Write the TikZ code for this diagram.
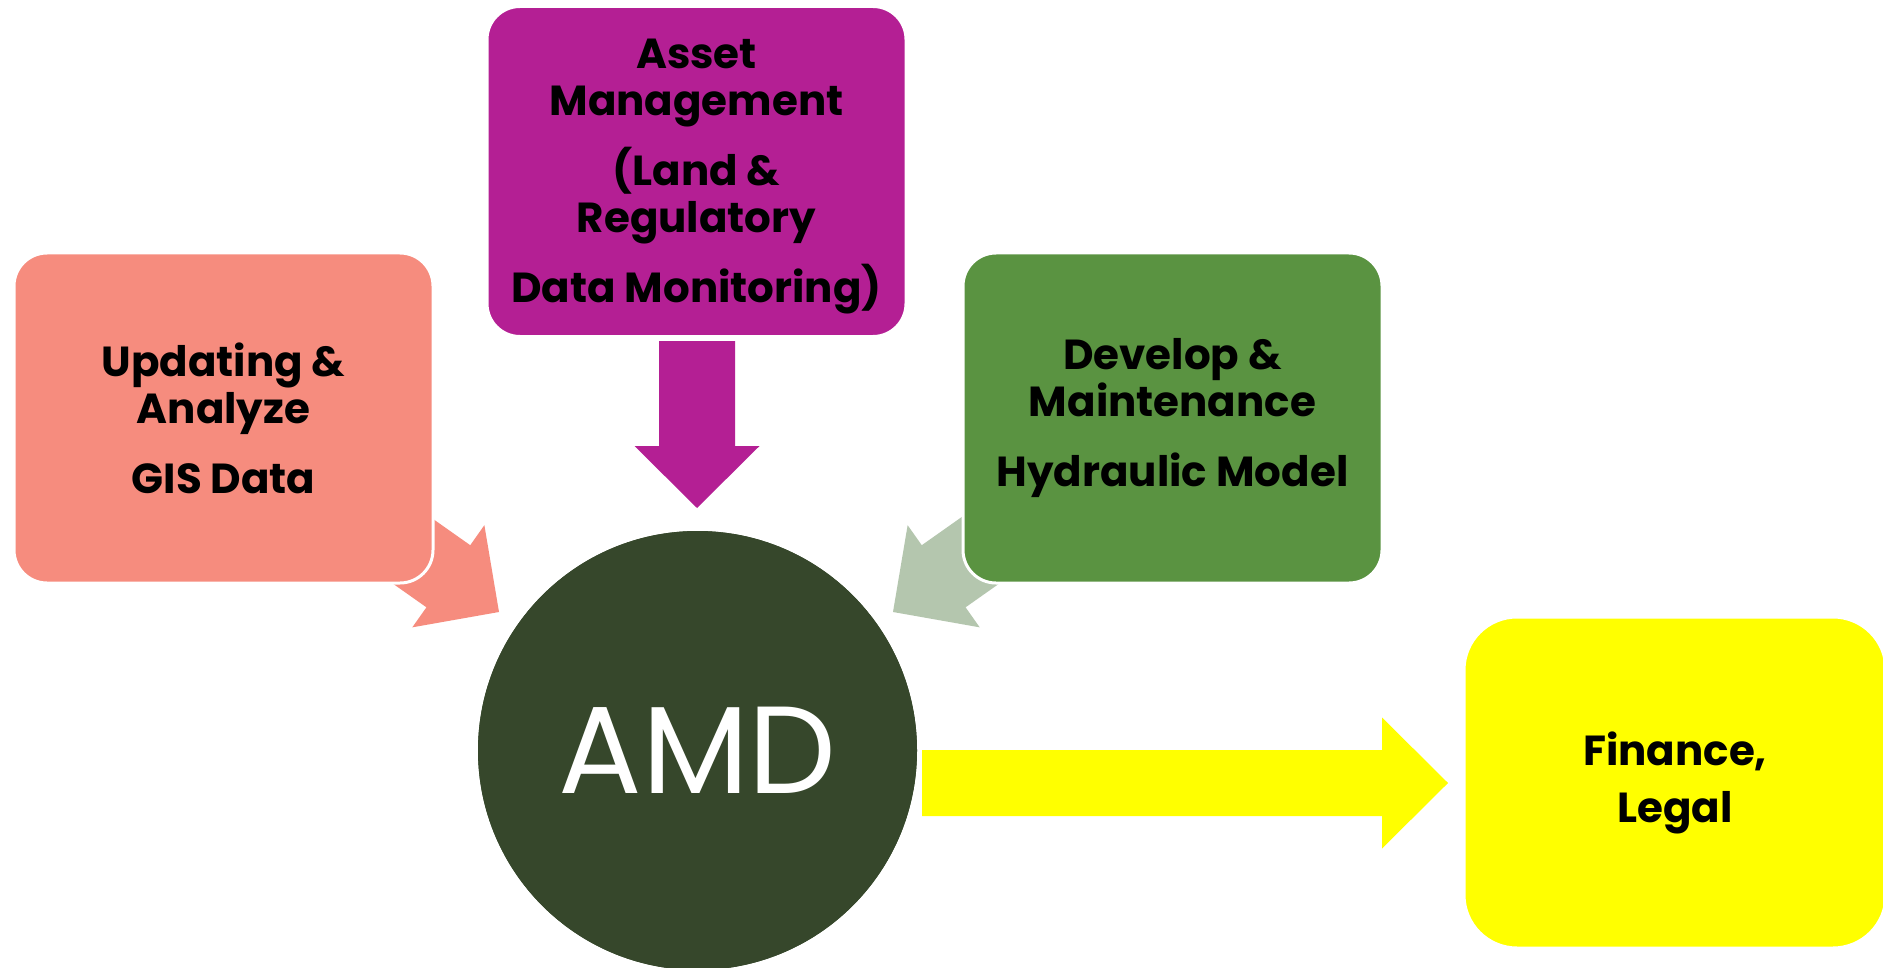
\documentclass[tikz,border=0pt]{standalone}
\usepackage{fontspec}
\newfontfamily\boxfont{Poppins}
\usetikzlibrary{calc}
\lineskiplimit=-100pt
\lineskip=0pt
\definecolor{salmonc}{HTML}{F68C7E}
\definecolor{purplec}{HTML}{B41F94}
\definecolor{greenc}{HTML}{5A9341}
\definecolor{sagec}{HTML}{B4C6AE}
\definecolor{circc}{HTML}{36472B}
\definecolor{yellowc}{HTML}{FFFF00}
% block arrow: colour, tip, angle, shaft length, shaft half width, head half width, head length
\newcommand\myblockarrow[7]{%
  \fill[#1, shift={(#2)}, rotate=#3] (0,0) -- (-#7,-#6) -- (-#7,-#5) -- (-#4,-#5)
    -- (-#4,#5) -- (-#7,#5) -- (-#7,#6) -- cycle;}
\begin{document}
\begin{tikzpicture}[x=0.5pt,y=-0.5pt,
  boxtext/.style={inner sep=0pt, align=center,
    font=\boxfont\bfseries\fontsize{21}{23.5}\selectfont, text=black},
  box/.style={boxtext, rounded corners=16.5pt, draw=white, line width=1.5pt,
    minimum width=209.5pt, minimum height=165pt},
  hub/.style={circle, fill=circc, minimum size=219.5pt, inner sep=0pt,
    font=\boxfont\fontsize{62}{62}\selectfont, text=white}]
\useasboundingbox (0,0) rectangle (1883,968);
\clip (0,0) rectangle (1883,968);
\fill[white] (0,0) rectangle (1883,968);

% hub and tips of the arrows
\node[hub] (amd) at (697.5,750.5) {AMD};
\coordinate (tipP) at (697,508);
\coordinate (tipS) at (499,612);
\coordinate (tipG) at (893,612);
\coordinate (tipY) at (1448,783);

% arrows (drawn beneath the boxes)
\myblockarrow{salmonc}{tipS}{-35.2}{172}{38}{62.5}{62}
\myblockarrow{sagec}{tipG}{215.2}{172}{38}{62.5}{62}
\myblockarrow{purplec}{tipP}{-90}{167}{38}{62.5}{62}
\myblockarrow{yellowc}{tipY}{0}{526}{33}{65.5}{66}

% boxes
\node[box, fill=salmonc] (gis) at (223.5,418)
  {Updating \&\\Analyze\\[11.5pt]GIS Data};
\node[box, fill=purplec] (asset) at (696.5,171.5) {};
\node[boxtext] (assettext) at ($(asset.center)+(0,5)$)
  {Asset\\Management\\[11.5pt](Land \&\\Regulatory\\[11.5pt]Data Monitoring)};
\node[box, fill=greenc] (hyd) at (1172.5,418)
  {Develop \&\\Maintenance\\[11.5pt]Hydraulic Model};
\node[box, fill=yellowc, rounded corners=26.5pt, minimum width=211pt,
  minimum height=165.5pt] (fin) at (1675,782.5)
  {Finance,\\[5pt]Legal};

% hub on top
\node[hub] at (amd) {AMD};
\end{tikzpicture}
\end{document}
